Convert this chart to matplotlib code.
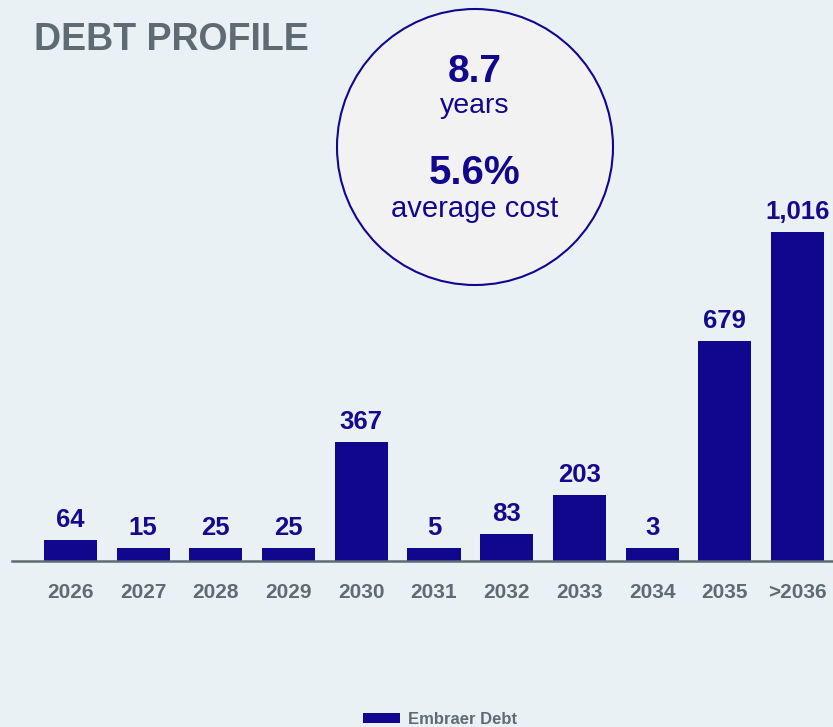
import matplotlib.pyplot as plt
from matplotlib.patches import Ellipse, Rectangle

plt.rcParams['font.family'] = ['Liberation Sans', 'DejaVu Sans']

years = ["2026", "2027", "2028", "2029", "2030", "2031", "2032", "2033", "2034", "2035", ">2036"]
debt = [64, 15, 25, 25, 367, 5, 83, 203, 3, 679, 1016]
avg_years = "8.7"
avg_cost = "5.6%"

W, H = 833, 727
BG = "#e9f1f5"
NAVY = "#11078f"
GREY = "#5f6b73"


def fy(py):
    # pixel from top -> figure fraction
    return 1 - py / H


fig = plt.figure(figsize=(W / 100, H / 100), dpi=100, facecolor=BG)

# bars
ax = fig.add_axes([12 / W, fy(561), 1 - 12 / W, (561 - 10) / H])
ax.set_facecolor("none")
x = list(range(len(years)))
# small values get a minimum visible height, like the original slide
shown = [max(v, 40) for v in debt]
bars = ax.bar(x, shown, width=0.73, color=NAVY, zorder=2)
ax.set_xlim(-0.805, 10.488)
ax.set_ylim(0, 1701)
for b, v in zip(bars, debt):
    ax.annotate(f"{v:,}", (b.get_x() + b.get_width() / 2, b.get_height()),
                xytext=(0, 6), textcoords="offset points", ha="center", va="bottom",
                fontsize=18.5, fontweight="bold", color="#140a8c")
ax.set_xticks(x)
ax.set_xticklabels(years, fontsize=15, fontweight="bold", color=GREY)
ax.tick_params(axis="x", length=0, pad=16)
ax.set_yticks([])
for s in ["top", "left", "right"]:
    ax.spines[s].set_visible(False)
ax.spines["bottom"].set_color(GREY)
ax.spines["bottom"].set_linewidth(1.8)

# title
fig.text(34 / W, fy(40), "DEBT PROFILE", fontsize=27, fontweight="bold",
         color=GREY, ha="left", va="center")

# circle with averages
cx, cy, r = 475, 147, 138
fig.patches.append(Ellipse((cx / W, fy(cy)), 2 * r / W, 2 * r / H,
                           transform=fig.transFigure, facecolor="#f2f2f2",
                           edgecolor=NAVY, linewidth=1.5, zorder=3))
fig.text(cx / W, fy(72), avg_years, fontsize=28, fontweight="bold", color=NAVY,
         ha="center", va="center", zorder=4)
fig.text(cx / W, fy(106), "years", fontsize=20.5, color=NAVY,
         ha="center", va="center", zorder=4)
fig.text(cx / W, fy(173), avg_cost, fontsize=29, fontweight="bold", color=NAVY,
         ha="center", va="center", zorder=4)
fig.text(cx / W, fy(209), "average cost", fontsize=21, color=NAVY,
         ha="center", va="center", zorder=4)

# legend
fig.patches.append(Rectangle((363 / W, fy(723)), 37 / W, 10 / H,
                             transform=fig.transFigure, facecolor=NAVY, edgecolor="none"))
fig.text(408 / W, fy(720), "Embraer Debt", fontsize=12, fontweight="bold",
         color=GREY, ha="left", va="center")

fig.savefig("out.png", dpi=100, facecolor=BG)
